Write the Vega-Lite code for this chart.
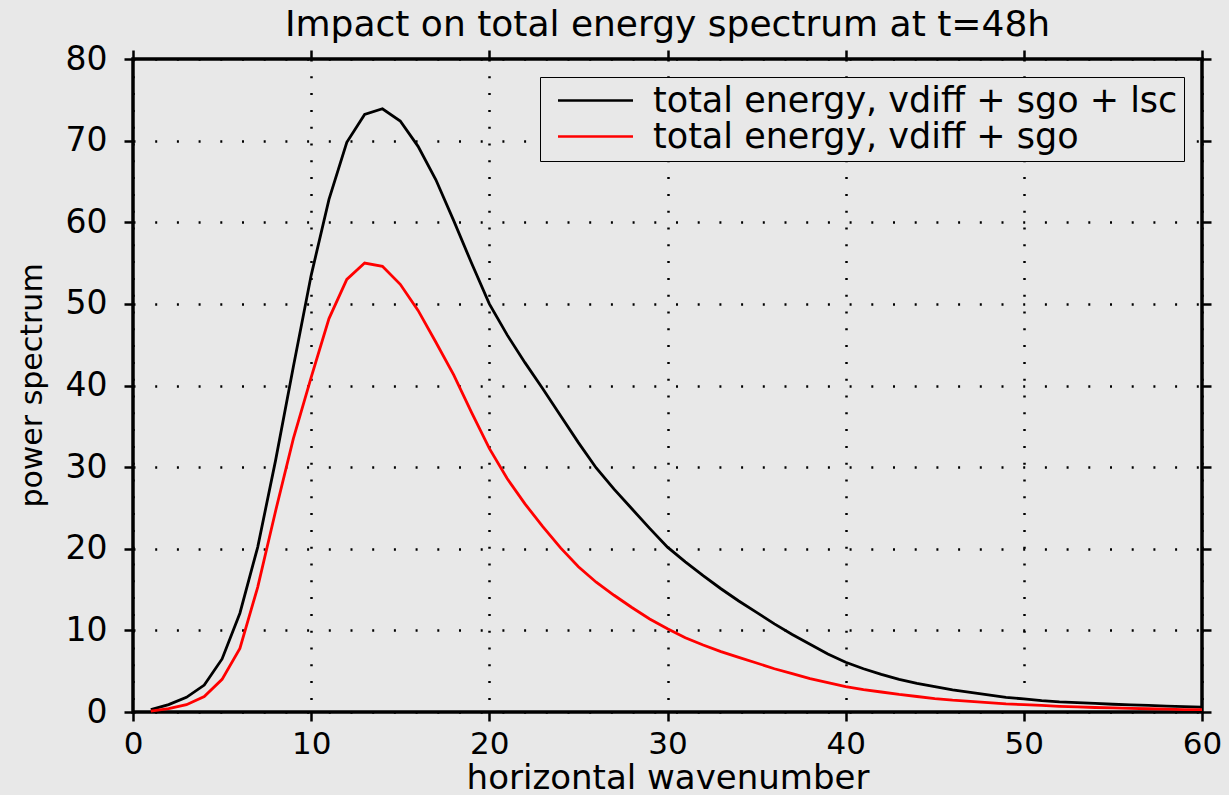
{
  "$schema": "https://vega.github.io/schema/vega-lite/v6.json",
  "width": 1069,
  "height": 653,
  "autosize": {"type": "none"},
  "padding": {"left": 133, "top": 59, "right": 27, "bottom": 83},
  "background": "#e8e8e8",
  "title": {
    "text": "Impact on total energy spectrum at t=48h",
    "font": "DejaVu Sans",
    "fontSize": 36,
    "fontWeight": "normal",
    "color": "black",
    "baseline": "alphabetic",
    "offset": -29,
    "anchor": "middle"
  },
  "data": {
    "values": [
      {"k":1,"s":"total energy, vdiff + sgo + lsc","v":0.3},
      {"k":2,"s":"total energy, vdiff + sgo + lsc","v":0.9},
      {"k":3,"s":"total energy, vdiff + sgo + lsc","v":1.8},
      {"k":4,"s":"total energy, vdiff + sgo + lsc","v":3.3},
      {"k":5,"s":"total energy, vdiff + sgo + lsc","v":6.5},
      {"k":6,"s":"total energy, vdiff + sgo + lsc","v":12.1},
      {"k":7,"s":"total energy, vdiff + sgo + lsc","v":20.2},
      {"k":8,"s":"total energy, vdiff + sgo + lsc","v":30.8},
      {"k":9,"s":"total energy, vdiff + sgo + lsc","v":42.3},
      {"k":10,"s":"total energy, vdiff + sgo + lsc","v":53.5},
      {"k":11,"s":"total energy, vdiff + sgo + lsc","v":62.8},
      {"k":12,"s":"total energy, vdiff + sgo + lsc","v":69.8},
      {"k":13,"s":"total energy, vdiff + sgo + lsc","v":73.2},
      {"k":14,"s":"total energy, vdiff + sgo + lsc","v":73.9},
      {"k":15,"s":"total energy, vdiff + sgo + lsc","v":72.4},
      {"k":16,"s":"total energy, vdiff + sgo + lsc","v":69.3},
      {"k":17,"s":"total energy, vdiff + sgo + lsc","v":65.2},
      {"k":18,"s":"total energy, vdiff + sgo + lsc","v":60.2},
      {"k":19,"s":"total energy, vdiff + sgo + lsc","v":55.0},
      {"k":20,"s":"total energy, vdiff + sgo + lsc","v":50.0},
      {"k":21,"s":"total energy, vdiff + sgo + lsc","v":46.2},
      {"k":22,"s":"total energy, vdiff + sgo + lsc","v":42.8},
      {"k":23,"s":"total energy, vdiff + sgo + lsc","v":39.6},
      {"k":24,"s":"total energy, vdiff + sgo + lsc","v":36.3},
      {"k":25,"s":"total energy, vdiff + sgo + lsc","v":33.0},
      {"k":26,"s":"total energy, vdiff + sgo + lsc","v":29.9},
      {"k":27,"s":"total energy, vdiff + sgo + lsc","v":27.3},
      {"k":28,"s":"total energy, vdiff + sgo + lsc","v":24.9},
      {"k":29,"s":"total energy, vdiff + sgo + lsc","v":22.5},
      {"k":30,"s":"total energy, vdiff + sgo + lsc","v":20.2},
      {"k":31,"s":"total energy, vdiff + sgo + lsc","v":18.4},
      {"k":32,"s":"total energy, vdiff + sgo + lsc","v":16.7},
      {"k":33,"s":"total energy, vdiff + sgo + lsc","v":15.1},
      {"k":34,"s":"total energy, vdiff + sgo + lsc","v":13.6},
      {"k":35,"s":"total energy, vdiff + sgo + lsc","v":12.2},
      {"k":36,"s":"total energy, vdiff + sgo + lsc","v":10.8},
      {"k":37,"s":"total energy, vdiff + sgo + lsc","v":9.5},
      {"k":38,"s":"total energy, vdiff + sgo + lsc","v":8.3},
      {"k":39,"s":"total energy, vdiff + sgo + lsc","v":7.1},
      {"k":40,"s":"total energy, vdiff + sgo + lsc","v":6.1},
      {"k":41,"s":"total energy, vdiff + sgo + lsc","v":5.3},
      {"k":42,"s":"total energy, vdiff + sgo + lsc","v":4.6},
      {"k":43,"s":"total energy, vdiff + sgo + lsc","v":4.0},
      {"k":44,"s":"total energy, vdiff + sgo + lsc","v":3.5},
      {"k":45,"s":"total energy, vdiff + sgo + lsc","v":3.1},
      {"k":46,"s":"total energy, vdiff + sgo + lsc","v":2.7},
      {"k":47,"s":"total energy, vdiff + sgo + lsc","v":2.4},
      {"k":48,"s":"total energy, vdiff + sgo + lsc","v":2.1},
      {"k":49,"s":"total energy, vdiff + sgo + lsc","v":1.8},
      {"k":50,"s":"total energy, vdiff + sgo + lsc","v":1.6},
      {"k":51,"s":"total energy, vdiff + sgo + lsc","v":1.4},
      {"k":52,"s":"total energy, vdiff + sgo + lsc","v":1.25},
      {"k":53,"s":"total energy, vdiff + sgo + lsc","v":1.15},
      {"k":54,"s":"total energy, vdiff + sgo + lsc","v":1.05},
      {"k":55,"s":"total energy, vdiff + sgo + lsc","v":0.95},
      {"k":56,"s":"total energy, vdiff + sgo + lsc","v":0.87},
      {"k":57,"s":"total energy, vdiff + sgo + lsc","v":0.8},
      {"k":58,"s":"total energy, vdiff + sgo + lsc","v":0.72},
      {"k":59,"s":"total energy, vdiff + sgo + lsc","v":0.66},
      {"k":60,"s":"total energy, vdiff + sgo + lsc","v":0.6},
      {"k":1,"s":"total energy, vdiff + sgo","v":0.1},
      {"k":2,"s":"total energy, vdiff + sgo","v":0.4},
      {"k":3,"s":"total energy, vdiff + sgo","v":0.9},
      {"k":4,"s":"total energy, vdiff + sgo","v":1.9},
      {"k":5,"s":"total energy, vdiff + sgo","v":4.0},
      {"k":6,"s":"total energy, vdiff + sgo","v":7.8},
      {"k":7,"s":"total energy, vdiff + sgo","v":15.3},
      {"k":8,"s":"total energy, vdiff + sgo","v":24.6},
      {"k":9,"s":"total energy, vdiff + sgo","v":33.5},
      {"k":10,"s":"total energy, vdiff + sgo","v":41.0},
      {"k":11,"s":"total energy, vdiff + sgo","v":48.2},
      {"k":12,"s":"total energy, vdiff + sgo","v":53.0},
      {"k":13,"s":"total energy, vdiff + sgo","v":55.0},
      {"k":14,"s":"total energy, vdiff + sgo","v":54.6},
      {"k":15,"s":"total energy, vdiff + sgo","v":52.4},
      {"k":16,"s":"total energy, vdiff + sgo","v":49.2},
      {"k":17,"s":"total energy, vdiff + sgo","v":45.3},
      {"k":18,"s":"total energy, vdiff + sgo","v":41.3},
      {"k":19,"s":"total energy, vdiff + sgo","v":36.7},
      {"k":20,"s":"total energy, vdiff + sgo","v":32.3},
      {"k":21,"s":"total energy, vdiff + sgo","v":28.6},
      {"k":22,"s":"total energy, vdiff + sgo","v":25.5},
      {"k":23,"s":"total energy, vdiff + sgo","v":22.7},
      {"k":24,"s":"total energy, vdiff + sgo","v":20.1},
      {"k":25,"s":"total energy, vdiff + sgo","v":17.8},
      {"k":26,"s":"total energy, vdiff + sgo","v":15.9},
      {"k":27,"s":"total energy, vdiff + sgo","v":14.3},
      {"k":28,"s":"total energy, vdiff + sgo","v":12.8},
      {"k":29,"s":"total energy, vdiff + sgo","v":11.4},
      {"k":30,"s":"total energy, vdiff + sgo","v":10.2},
      {"k":31,"s":"total energy, vdiff + sgo","v":9.1},
      {"k":32,"s":"total energy, vdiff + sgo","v":8.2},
      {"k":33,"s":"total energy, vdiff + sgo","v":7.4},
      {"k":34,"s":"total energy, vdiff + sgo","v":6.7},
      {"k":35,"s":"total energy, vdiff + sgo","v":6.0},
      {"k":36,"s":"total energy, vdiff + sgo","v":5.3},
      {"k":37,"s":"total energy, vdiff + sgo","v":4.7},
      {"k":38,"s":"total energy, vdiff + sgo","v":4.1},
      {"k":39,"s":"total energy, vdiff + sgo","v":3.6},
      {"k":40,"s":"total energy, vdiff + sgo","v":3.1},
      {"k":41,"s":"total energy, vdiff + sgo","v":2.75},
      {"k":42,"s":"total energy, vdiff + sgo","v":2.45},
      {"k":43,"s":"total energy, vdiff + sgo","v":2.15},
      {"k":44,"s":"total energy, vdiff + sgo","v":1.9},
      {"k":45,"s":"total energy, vdiff + sgo","v":1.65},
      {"k":46,"s":"total energy, vdiff + sgo","v":1.45},
      {"k":47,"s":"total energy, vdiff + sgo","v":1.3},
      {"k":48,"s":"total energy, vdiff + sgo","v":1.15},
      {"k":49,"s":"total energy, vdiff + sgo","v":1.0},
      {"k":50,"s":"total energy, vdiff + sgo","v":0.9},
      {"k":51,"s":"total energy, vdiff + sgo","v":0.8},
      {"k":52,"s":"total energy, vdiff + sgo","v":0.7},
      {"k":53,"s":"total energy, vdiff + sgo","v":0.62},
      {"k":54,"s":"total energy, vdiff + sgo","v":0.55},
      {"k":55,"s":"total energy, vdiff + sgo","v":0.5},
      {"k":56,"s":"total energy, vdiff + sgo","v":0.45},
      {"k":57,"s":"total energy, vdiff + sgo","v":0.4},
      {"k":58,"s":"total energy, vdiff + sgo","v":0.35},
      {"k":59,"s":"total energy, vdiff + sgo","v":0.3},
      {"k":60,"s":"total energy, vdiff + sgo","v":0.28}
    ]
  },
  "layer": [
    {
      "mark": {"type": "line", "strokeWidth": 2.8},
      "encoding": {
        "x": {
          "field": "k", "type": "quantitative",
          "scale": {"domain": [0, 60], "nice": false, "zero": false},
          "axis": {
            "orient": "bottom",
            "values": [0, 10, 20, 30, 40, 50, 60],
            "title": "horizontal wavenumber",
            "titleFontSize": 34,
            "titleBaseline": "alphabetic",
            "titleY": 76,
            "labelBaseline": "alphabetic",
            "labelFontSize": 31,
            "labelPadding": 32,
            "gridDash": [2, 14.8]
          }
        },
        "y": {
          "field": "v", "type": "quantitative",
          "scale": {"domain": [0, 80], "nice": false},
          "axis": {
            "orient": "left",
            "values": [0, 10, 20, 30, 40, 50, 60, 70, 80],
            "title": "power spectrum",
            "titleFontSize": 30,
            "titleBaseline": "alphabetic",
            "titleAlign": "center",
            "titleAngle": 270,
            "titleX": -92,
            "titleY": 326,
            "labelPadding": 17,
            "gridDash": [2, 19.7]
          }
        },
        "color": {
          "field": "s", "type": "nominal",
          "scale": {
            "domain": ["total energy, vdiff + sgo + lsc", "total energy, vdiff + sgo"],
            "range": ["#000000", "#ff0000"]
          },
          "legend": {
            "title": null,
            "orient": "none",
            "legendX": 407,
            "legendY": 18,
            "strokeColor": "black",
            "fillColor": "#e8e8e8",
            "padding": 6,
            "symbolType": "M-2.5,0H2.5",
            "symbolSize": 900,
            "symbolStrokeWidth": 2.5,
            "symbolOffset": 32,
            "labelOffset": 40,
            "labelFont": "DejaVu Sans",
            "labelFontSize": 35,
            "labelLimit": 1000,
            "labelColor": "black",
            "rowPadding": 0
          }
        }
      }
    },
    {
      "mark": {"type": "line", "strokeOpacity": 0},
      "encoding": {
        "x": {
          "field": "k", "type": "quantitative",
          "axis": {"orient": "top", "values": [0, 10, 20, 30, 40, 50, 60], "labels": false, "grid": false, "title": null}
        },
        "y": {
          "field": "v", "type": "quantitative",
          "axis": {"orient": "right", "values": [0, 10, 20, 30, 40, 50, 60, 70, 80], "labels": false, "grid": false, "title": null}
        },
        "detail": {"field": "s"}
      }
    }
  ],
  "resolve": {"axis": {"x": "independent", "y": "independent"}},
  "config": {
    "view": {"stroke": "black", "strokeWidth": 3.5, "fill": "#e8e8e8"},
    "axis": {
      "domain": false,
      "grid": true,
      "gridColor": "black",
      "gridWidth": 2.5,
      "gridOpacity": 1,
      "ticks": true,
      "tickColor": "black",
      "tickWidth": 2.5,
      "tickSize": 9,
      "labelFont": "DejaVu Sans",
      "labelFontSize": 33,
      "labelColor": "black",
      "labelFlush": false,
      "labelOverlap": false,
      "labelBound": false,
      "titleFont": "DejaVu Sans",
      "titleFontWeight": "normal",
      "titleColor": "black"
    }
  }
}
